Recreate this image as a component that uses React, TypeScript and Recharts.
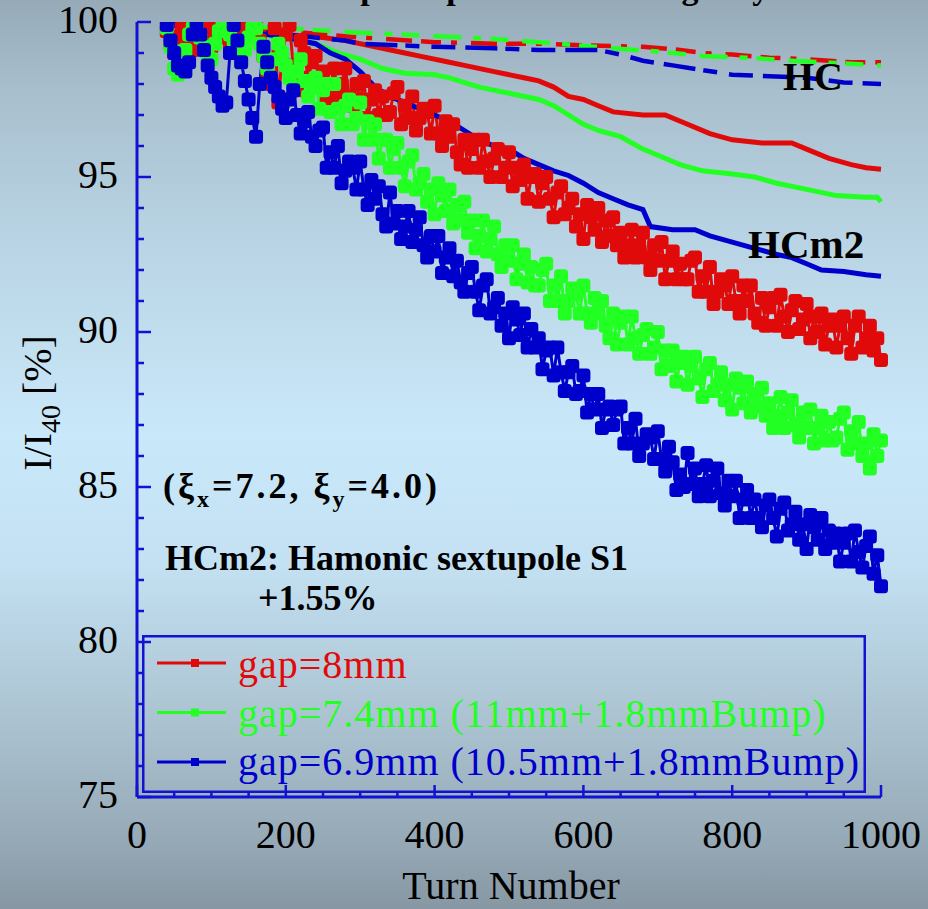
import React from 'react';
import { LineChart, Line, XAxis, YAxis, Legend } from 'recharts';

const RED = '#E00A0A';
const GREEN = '#22FF22';
const BLUE = '#0000CC';
const AXIS = '#1212D2';
const FONT = "'Liberation Serif', 'Times New Roman', serif";

// turn numbers of the noisy (scattered) runs
const noisyTurns = [
  40, 45, 50, 55, 60, 65, 70, 75, 80, 85, 90, 95, 100, 105, 110, 115, 120, 125, 130, 135,
  140, 145, 150, 155, 160, 165, 170, 175, 180, 185, 190, 195, 200, 205, 210, 215, 220, 225, 230, 235,
  240, 245, 250, 255, 260, 265, 270, 275, 280, 285, 290, 295, 300, 305, 310, 315, 320, 325, 330, 335,
  340, 345, 350, 355, 360, 365, 370, 375, 380, 385, 390, 395, 400, 405, 410, 415, 420, 425, 430, 435,
  440, 445, 450, 455, 460, 465, 470, 475, 480, 485, 490, 495, 500, 505, 510, 515, 520, 525, 530, 535,
  540, 545, 550, 555, 560, 565, 570, 575, 580, 585, 590, 595, 600, 605, 610, 615, 620, 625, 630, 635,
  640, 645, 650, 655, 660, 665, 670, 675, 680, 685, 690, 695, 700, 705, 710, 715, 720, 725, 730, 735,
  740, 745, 750, 755, 760, 765, 770, 775, 780, 785, 790, 795, 800, 805, 810, 815, 820, 825, 830, 835,
  840, 845, 850, 855, 860, 865, 870, 875, 880, 885, 890, 895, 900, 905, 910, 915, 920, 925, 930, 935,
  940, 945, 950, 955, 960, 965, 970, 975, 980, 985, 990, 995, 1000,
];

const gap8Noisy = [
  99.7, 99.3, 99.0, 99.5, 99.8, 99.9, 99.4, 99.1, 99.9, 99.8, 99.6, 99.9, 99.2, 99.5, 99.8, 99.9, 99.5, 99.2, 99.9, 99.7,
  99.3, 99.8, 99.7, 99.9, 99.9, 99.4, 98.9, 98.4, 98.0, 99.8, 97.4, 98.9, 99.6, 99.9, 98.6, 97.8, 99.4, 99.0, 98.2, 98.7,
  98.9, 97.9, 98.4, 97.5, 97.9, 98.5, 97.6, 98.0, 98.5, 97.6, 97.3, 98.0, 97.5, 98.1, 96.9, 97.5, 97.8, 97.0, 97.6, 97.0,
  97.1, 97.7, 97.9, 96.7, 97.3, 96.9, 97.6, 96.5, 96.9, 97.2, 97.1, 96.4, 97.3, 96.4, 96.0, 96.8, 96.3, 96.7, 95.8, 95.4,
  96.2, 95.3, 95.9, 96.2, 95.3, 96.2, 95.5, 95.0, 95.6, 95.9, 95.0, 95.3, 95.8, 94.7, 95.3, 94.9, 95.4, 94.3, 95.0, 95.1,
  94.2, 94.8, 95.0, 94.3, 93.7, 94.5, 94.7, 93.8, 94.0, 94.3, 93.4, 93.8, 93.0, 94.1, 93.7, 93.3, 94.0, 92.9, 93.6, 93.1,
  93.7, 92.8, 93.2, 92.4, 92.8, 93.3, 92.4, 92.8, 93.2, 92.4, 92.0, 92.8, 92.3, 92.9, 91.7, 92.3, 92.6, 91.7, 92.2, 91.7,
  91.7, 92.3, 92.4, 91.3, 91.8, 91.3, 92.1, 90.9, 91.3, 91.7, 91.5, 90.9, 91.8, 91.0, 90.6, 91.5, 91.0, 91.5, 90.6, 90.3,
  91.1, 90.2, 90.8, 91.1, 90.2, 91.2, 90.5, 90.0, 90.7, 91.0, 90.1, 90.4, 90.9, 89.8, 90.5, 90.0, 90.6, 89.6, 90.2, 90.4,
  89.5, 90.2, 90.5, 89.8, 89.3, 90.2, 90.5, 89.5, 89.8, 90.2, 89.4, 89.8, 89.1,
];

const gap74Noisy = [
  99.8, 99.2, 98.5, 98.3, 98.4, 99.1, 99.6, 99.8, 99.9, 99.5, 99.2, 98.9, 98.8, 99.3, 99.7, 99.9, 99.9, 99.6, 99.4, 99.0,
  98.7, 99.1, 99.5, 99.8, 99.8, 99.3, 98.9, 98.5, 98.2, 98.8, 99.3, 99.0, 98.6, 98.2, 97.9, 98.4, 98.8, 98.1, 97.6, 97.9,
  98.2, 97.2, 97.8, 98.0, 97.1, 98.0, 97.2, 96.7, 97.3, 97.5, 96.7, 96.9, 97.4, 96.2, 96.8, 96.2, 96.7, 95.6, 96.2, 96.2,
  95.3, 95.9, 96.1, 95.3, 94.7, 95.5, 95.7, 94.6, 94.8, 95.1, 94.2, 94.6, 93.8, 94.8, 94.4, 93.9, 94.6, 93.5, 94.1, 93.6,
  94.2, 93.2, 93.6, 92.7, 93.1, 93.6, 92.6, 93.0, 93.4, 92.5, 92.1, 92.8, 92.3, 92.8, 91.7, 92.2, 92.5, 91.6, 92.1, 91.5,
  91.5, 92.0, 92.2, 91.0, 91.5, 91.0, 91.8, 90.6, 91.0, 91.4, 91.2, 90.6, 91.5, 90.6, 90.3, 91.1, 90.6, 91.0, 90.2, 89.8,
  90.6, 89.6, 90.3, 90.5, 89.6, 90.5, 89.8, 89.3, 89.9, 90.1, 89.3, 89.5, 90.0, 88.8, 89.4, 88.9, 89.4, 88.4, 89.0, 89.2,
  88.3, 88.9, 89.2, 88.5, 87.9, 88.8, 89.0, 88.1, 88.3, 88.7, 87.8, 88.3, 87.5, 88.5, 88.2, 87.7, 88.4, 87.4, 88.0, 87.6,
  88.2, 87.3, 87.7, 86.9, 87.3, 87.9, 86.9, 87.4, 87.8, 87.0, 86.6, 87.4, 86.9, 87.5, 86.4, 86.9, 87.3, 86.5, 87.1, 86.5,
  86.6, 87.2, 87.4, 86.2, 86.8, 86.4, 87.1, 86.0, 86.4, 85.6, 86.7, 86.0, 86.5,
];

const gap69Noisy = [
  99.9, 99.4, 99.0, 98.6, 98.5, 98.4, 98.7, 99.6, 100.0, 99.6, 99.1, 98.6, 98.2, 97.9, 97.6, 97.3, 97.4, 99.0, 99.9, 99.4,
  98.7, 98.1, 97.5, 96.9, 96.3, 98.0, 99.2, 98.7, 98.2, 97.9, 97.6, 97.2, 96.9, 97.5, 97.8, 97.0, 96.4, 96.8, 97.1, 96.3,
  96.0, 96.5, 96.6, 95.3, 95.8, 95.3, 96.0, 94.8, 95.2, 95.5, 95.3, 94.6, 95.5, 94.6, 94.1, 94.9, 94.3, 94.7, 93.8, 93.4,
  94.5, 93.5, 93.9, 93.0, 93.4, 93.9, 92.9, 93.3, 93.7, 92.8, 92.4, 93.1, 92.6, 93.1, 91.9, 92.4, 92.7, 91.8, 92.3, 91.6,
  91.3, 91.9, 92.1, 91.3, 90.7, 91.5, 91.7, 90.6, 90.8, 91.1, 90.2, 90.6, 89.8, 90.8, 90.4, 89.9, 90.6, 89.5, 90.1, 89.5,
  89.8, 88.8, 89.4, 89.5, 88.6, 89.5, 88.7, 88.1, 88.7, 88.9, 88.0, 88.1, 88.6, 87.4, 88.0, 87.5, 88.0, 86.9, 87.5, 87.6,
  87.0, 87.5, 87.6, 86.4, 86.9, 86.4, 87.2, 86.0, 86.4, 86.7, 86.6, 85.9, 86.8, 85.9, 85.5, 86.3, 85.8, 84.9, 85.4, 85.0,
  86.1, 85.1, 85.6, 84.7, 85.1, 85.7, 84.7, 85.2, 85.6, 84.8, 84.4, 85.2, 84.7, 85.2, 84.0, 84.6, 84.9, 84.0, 84.6, 84.0,
  83.7, 84.4, 84.6, 84.0, 83.4, 84.3, 84.5, 83.6, 83.8, 84.2, 83.3, 83.8, 83.0, 84.1, 83.7, 83.3, 84.0, 83.0, 83.6, 83.2,
  83.5, 82.6, 83.2, 83.5, 82.6, 83.6, 82.9, 82.4, 83.1, 83.4, 82.2, 82.8, 81.8,
];

// HCm2 runs (thin step-like curves)
const hcm2Turns8 = [40, 100, 150, 200, 250, 280, 320, 360, 380, 420, 440, 480, 520, 540, 560, 580, 600, 620, 640, 680, 710, 740, 770, 800, 840, 880, 900, 930, 960, 980, 1000];
const hcm2Gap8 = [99.9, 99.8, 99.7, 99.6, 99.5, 99.4, 99.2, 99.0, 98.9, 98.7, 98.6, 98.4, 98.2, 98.1, 97.9, 97.6, 97.5, 97.3, 97.1, 97.0, 97.0, 96.7, 96.4, 96.2, 96.1, 96.1, 95.9, 95.6, 95.4, 95.3, 95.25];

const hcm2Turns74 = [40, 100, 150, 200, 240, 270, 300, 330, 360, 400, 420, 460, 500, 540, 560, 580, 600, 620, 650, 680, 700, 730, 760, 800, 830, 860, 900, 940, 980, 995, 1000];
const hcm2Gap74 = [99.9, 99.8, 99.6, 99.5, 99.3, 99.0, 98.8, 98.5, 98.35, 98.3, 98.2, 97.9, 97.7, 97.5, 97.3, 97.0, 96.7, 96.5, 96.3, 95.9, 95.7, 95.4, 95.2, 95.1, 95.0, 94.8, 94.6, 94.4, 94.35, 94.35, 94.2];

const hcm2Turns69 = [40, 100, 150, 200, 240, 260, 280, 300, 320, 340, 360, 380, 400, 420, 440, 460, 480, 500, 520, 540, 560, 580, 600, 620, 640, 660, 680, 690, 720, 750, 770, 800, 830, 860, 880, 900, 920, 950, 980, 1000];
const hcm2Gap69 = [99.9, 99.8, 99.7, 99.5, 99.3, 99.0, 98.8, 98.4, 97.9, 97.6, 97.4, 97.2, 97.0, 96.8, 96.5, 96.2, 96.0, 95.9, 95.6, 95.4, 95.2, 95.05, 94.8, 94.5, 94.3, 94.1, 93.95, 93.4, 93.3, 93.3, 93.1, 92.9, 92.7, 92.5, 92.4, 92.2, 92.0, 91.95, 91.85, 91.8];

// HC runs (top, broken curves)
const hcTurns8 = [40, 100, 200, 300, 400, 480, 540, 600, 680, 730, 760, 800, 850, 900, 960, 1000];
const hcGap8 = [100, 99.9, 99.7, 99.5, 99.35, 99.3, 99.3, 99.25, 99.2, 99.1, 99.0, 98.95, 98.85, 98.8, 98.7, 98.7];

const hcTurns74 = [40, 100, 200, 300, 400, 480, 540, 590, 640, 700, 760, 820, 880, 960, 1000];
const hcGap74 = [100, 99.9, 99.8, 99.65, 99.55, 99.45, 99.35, 99.25, 99.15, 99.05, 98.9, 98.85, 98.75, 98.65, 98.6];

const hcTurns69 = [40, 100, 200, 280, 300, 400, 480, 540, 620, 650, 680, 720, 760, 800, 850, 900, 950, 1000];
const hcGap69 = [100, 99.8, 99.6, 99.4, 99.3, 99.2, 99.15, 99.1, 99.1, 98.95, 98.75, 98.6, 98.45, 98.3, 98.25, 98.2, 98.05, 98.0];

const seriesNames = ['gap=8mm', 'gap=7.4mm (11mm+1.8mmBump)', 'gap=6.9mm (10.5mm+1.8mmBump)'];

const xTickValues = [0, 50, 100, 150, 200, 250, 300, 350, 400, 450, 500, 550, 600, 650, 700, 750, 800, 850, 900, 950, 1000];
const yTickValues = [75, 76, 77, 78, 79, 80, 81, 82, 83, 84, 85, 86, 87, 88, 89, 90, 91, 92, 93, 94, 95, 96, 97, 98, 99, 100];

const toPoints = (turns: number[], vals: number[]) => turns.map((t, i) => ({ t, v: vals[i] }));

const squareDot = (color: string) => (p: any) => (
  <rect key={`d-${p.index}`} x={p.cx - 7} y={p.cy - 7} width={14} height={14} rx={3.5} fill={color} />
);

const LeftTick = ({ x, y, payload }: any) => {
  const major = payload.value % 5 === 0;
  return (
    <g>
      <line x1={x} x2={x + (major ? 14 : 7)} y1={y} y2={y} stroke={AXIS} strokeWidth={2.5} />
      {major && (
        <text x={x - 19} y={y + 11} textAnchor="end" fontSize={40} fontFamily={FONT} fill="#000">
          {payload.value}
        </text>
      )}
    </g>
  );
};

const RightTick = ({ x, y, payload }: any) => {
  const major = payload.value % 5 === 0;
  return <line x1={x} x2={x - (major ? 12 : 7)} y1={y} y2={y} stroke={AXIS} strokeWidth={2.5} />;
};

const BottomTick = ({ x, y, payload }: any) => {
  const major = payload.value % 200 === 0;
  return (
    <g>
      <line x1={x} x2={x} y1={y} y2={y - (major ? 12 : 6)} stroke={AXIS} strokeWidth={2.5} />
      {major && (
        <text x={x} y={y + 51} textAnchor="middle" fontSize={40} fontFamily={FONT} fill="#000">
          {payload.value}
        </text>
      )}
    </g>
  );
};

const TopTick = ({ x, y, payload }: any) => {
  const major = payload.value % 200 === 0;
  return <line x1={x} x2={x} y1={y} y2={y + (major ? 12 : 6)} stroke={AXIS} strokeWidth={2.5} />;
};

const LegendBox = ({ payload }: any) => {
  const items = (payload || [])
    .filter((e: any) => seriesNames.includes(e.value))
    .sort((a: any, b: any) => seriesNames.indexOf(a.value) - seriesNames.indexOf(b.value));
  return (
    <svg width={724} height={158} style={{ display: 'block' }}>
      <rect x={1.25} y={1.25} width={721.5} height={155.5} fill="none" stroke={AXIS} strokeWidth={2.5} />
      {items.map((e: any, i: number) => {
        const ly = 28 + i * 49.5;
        return (
          <g key={e.value}>
            <line x1={15} x2={84} y1={ly} y2={ly} stroke={e.color} strokeWidth={3} />
            <rect x={49} y={ly - 4} width={8} height={8} fill={e.color} />
            <text x={96} y={43 + i * 48.5} fontSize={40} letterSpacing={1} fontFamily={FONT} fill={e.color}>
              {e.value}
            </text>
          </g>
        );
      })}
    </svg>
  );
};

export default function App() {
  const noisy = [
    { name: seriesNames[0], color: RED, data: toPoints(noisyTurns, gap8Noisy) },
    { name: seriesNames[1], color: GREEN, data: toPoints(noisyTurns, gap74Noisy) },
    { name: seriesNames[2], color: BLUE, data: toPoints(noisyTurns, gap69Noisy) },
  ];
  const hcm2 = [
    { color: RED, data: toPoints(hcm2Turns8, hcm2Gap8) },
    { color: GREEN, data: toPoints(hcm2Turns74, hcm2Gap74) },
    { color: BLUE, data: toPoints(hcm2Turns69, hcm2Gap69) },
  ];
  const hc = [
    { color: RED, data: toPoints(hcTurns8, hcGap8), dash: '20 10 6 14 26 9' },
    { color: GREEN, data: toPoints(hcTurns74, hcGap74), dash: '28 12 8 9 18 14' },
    { color: BLUE, data: toPoints(hcTurns69, hcGap69), dash: '32 8 14 12 24 10' },
  ];

  return (
    <div
      style={{
        position: 'absolute',
        left: 0,
        top: 0,
        width: 928,
        height: 909,
        overflow: 'hidden',
        background:
          'linear-gradient(to bottom, #96aab8 0%, #a8bfcd 10%, #bad6e6 28%, #c9e8f9 48%, #c3e1f2 62%, #adc5d3 78%, #97aab7 92%, #8797a4 100%)',
      }}
    >
      <LineChart width={928} height={909} margin={{ top: 22, right: 47, bottom: 0, left: 0 }}>
        <XAxis
          dataKey="t"
          type="number"
          domain={[0, 1000]}
          ticks={xTickValues}
          interval={0}
          height={112}
          tickSize={0}
          tickMargin={0}
          tickLine={false}
          axisLine={{ stroke: AXIS, strokeWidth: 3 }}
          tick={<BottomTick />}
        />
        <XAxis
          xAxisId="top"
          orientation="top"
          type="number"
          domain={[0, 1000]}
          ticks={xTickValues}
          interval={0}
          height={0}
          tickSize={0}
          tickMargin={0}
          tickLine={false}
          axisLine={{ stroke: AXIS, strokeWidth: 3 }}
          tick={<TopTick />}
        />
        <YAxis
          type="number"
          domain={[75, 100]}
          allowDataOverflow
          ticks={yTickValues}
          interval={0}
          width={137}
          tickSize={0}
          tickMargin={0}
          tickLine={false}
          axisLine={{ stroke: AXIS, strokeWidth: 3 }}
          tick={<LeftTick />}
        />
        <YAxis
          yAxisId="right"
          orientation="right"
          type="number"
          domain={[75, 100]}
          ticks={yTickValues}
          interval={0}
          width={0}
          tickSize={0}
          tickMargin={0}
          tickLine={false}
          axisLine={{ stroke: AXIS, strokeWidth: 3 }}
          tick={<RightTick />}
        />
        <Legend
          layout="horizontal"
          verticalAlign="middle"
          align="center"
          content={<LegendBox />}
          wrapperStyle={{ left: 142, top: 635, width: 724, height: 158 }}
        />
        {noisy.map((s) => (
          <Line
            key={s.name}
            name={s.name}
            data={s.data}
            dataKey="v"
            type="linear"
            stroke={s.color}
            strokeWidth={3}
            dot={squareDot(s.color)}
            activeDot={false}
            isAnimationActive={false}
          />
        ))}
        {hcm2.map((s, i) => (
          <Line
            key={`hcm2-${i}`}
            name={`HCm2-${i}`}
            data={s.data}
            dataKey="v"
            type="linear"
            stroke={s.color}
            strokeWidth={5}
            dot={false}
            activeDot={false}
            legendType="none"
            isAnimationActive={false}
          />
        ))}
        {hc.map((s, i) => (
          <Line
            key={`hc-${i}`}
            name={`HC-${i}`}
            data={s.data}
            dataKey="v"
            type="linear"
            stroke={s.color}
            strokeWidth={4.5}
            strokeDasharray={s.dash}
            dot={false}
            activeDot={false}
            legendType="none"
            isAnimationActive={false}
          />
        ))}
      </LineChart>
      <svg
        width={928}
        height={909}
        style={{ position: 'absolute', left: 0, top: 0, pointerEvents: 'none' }}
        fontFamily={FONT}
      >
        <text x={279} y={-1} fontSize={34} fontWeight="bold" fill="#000">
          Sextupole optimization using only
        </text>
        <text x={783} y={90} fontSize={40} fontWeight="bold" fill="#000">HC</text>
        <text x={748} y={258} fontSize={41} fontWeight="bold" fill="#000">HCm2</text>
        <text x={163} y={498} fontSize={36} fontWeight="bold" fill="#000" textLength={274} lengthAdjust="spacing">
          (ξ<tspan fontSize={24} dy={9}>x</tspan>
          <tspan dy={-9}>=7.2, ξ</tspan>
          <tspan fontSize={24} dy={9}>y</tspan>
          <tspan dy={-9}>=4.0)</tspan>
        </text>
        <text x={165} y={570} fontSize={36} fontWeight="bold" fill="#000">
          HCm2: Hamonic sextupole S1
        </text>
        <text x={258} y={610} fontSize={36} fontWeight="bold" fill="#000">+1.55%</text>
        <text x={511} y={899} fontSize={40} textAnchor="middle" fill="#000">Turn Number</text>
        <text transform="translate(51,403) rotate(-90)" fontSize={40} textAnchor="middle" fill="#000">
          I/I<tspan fontSize={28} dy={9}>40</tspan>
          <tspan dy={-9}> [%]</tspan>
        </text>
      </svg>
    </div>
  );
}
